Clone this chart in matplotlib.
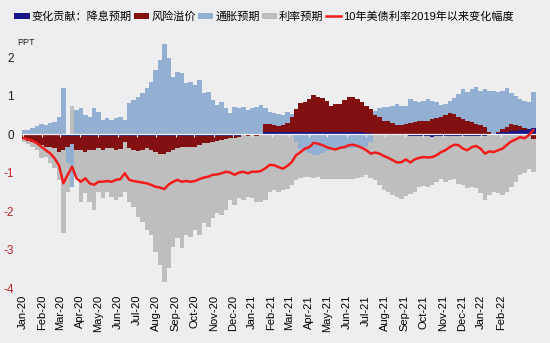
import datetime

import matplotlib

matplotlib.use("Agg")
import matplotlib.dates as mdates
import matplotlib.pyplot as plt
import numpy as np

plt.rcParams["font.family"] = ["Liberation Sans", "Noto Sans CJK SC"]

# weekly readings, first week ending 2020-01-03
FIRST_WEEK = datetime.date(2020, 1, 3)

# 变化贡献：降息预期
rate_cut = [
    -0.02, -0.02, -0.02, -0.02, -0.03, -0.03, -0.03, -0.03, -0.03, -0.05,
    -0.05, -0.05, -0.05, -0.04, -0.04, -0.04, -0.04, -0.04, -0.04, -0.04,
    -0.04, -0.04, -0.05, -0.04, -0.04, -0.04, -0.05, -0.04, -0.04, -0.04,
    -0.04, -0.05, -0.05, -0.04, -0.04, -0.04, -0.04, -0.04, -0.04, -0.04,
    -0.04, -0.04, -0.04, -0.04, -0.04, -0.04, -0.04, -0.04, -0.04, -0.04,
    -0.02, -0.02, -0.02, -0.02, -0.02, 0.04, 0.04, 0.04, 0.04, 0.04,
    0.04, 0.04, 0.04, 0.05, 0.05, 0.04, 0.04, 0.05, 0.05, 0.04,
    0.04, 0.04, 0.04, 0.05, 0.06, 0.05, 0.04, 0.04, 0.03, 0.03,
    0.01, 0.01, 0.01, 0.01, 0.01, 0.01, 0.01, 0.01, -0.04, -0.05,
    -0.05, -0.06, -0.05, -0.08, -0.05, -0.05, -0.04, -0.05, -0.06, -0.05,
    -0.05, -0.04, -0.05, -0.05, -0.06, -0.04, 0.00, 0.00, 0.02, 0.04,
    0.06, 0.08, 0.09, 0.10, 0.11, 0.13, 0.16,
]

# 风险溢价
risk_premium = [
    -0.11, -0.16, -0.18, -0.22, -0.26, -0.30, -0.30, -0.34, -0.43, -0.37,
    -0.30, -0.22, -0.37, -0.38, -0.42, -0.38, -0.38, -0.33, -0.38, -0.33,
    -0.33, -0.38, -0.33, -0.16, -0.33, -0.38, -0.38, -0.38, -0.33, -0.38,
    -0.42, -0.46, -0.46, -0.42, -0.38, -0.33, -0.29, -0.29, -0.29, -0.29,
    -0.25, -0.20, -0.20, -0.16, -0.14, -0.12, -0.09, -0.07, -0.06, -0.04,
    -0.01, -0.02, -0.01, -0.02, 0.00, 0.21, 0.23, 0.19, 0.17, 0.20,
    0.25, 0.40, 0.62, 0.75, 0.79, 0.88, 0.98, 0.92, 0.88, 0.81,
    0.70, 0.75, 0.75, 0.83, 0.90, 0.92, 0.86, 0.79, 0.70, 0.62,
    0.49, 0.43, 0.34, 0.32, 0.28, 0.23, 0.23, 0.26, 0.29, 0.31,
    0.33, 0.35, 0.35, 0.38, 0.42, 0.44, 0.50, 0.55, 0.53, 0.44,
    0.38, 0.35, 0.31, 0.27, 0.24, 0.18, 0.05, 0.01, 0.02, 0.08,
    0.12, 0.19, 0.15, 0.11, 0.05, 0.01, -0.12,
]

# 通胀预期
inflation = [
    0.10, 0.10, 0.15, 0.22, 0.25, 0.23, 0.28, 0.30, 0.45, 1.19,
    -0.40, -1.10, 0.62, 0.67, 0.49, 0.45, 0.68, 0.58, 0.36, 0.41,
    0.36, 0.42, 0.45, 0.36, 0.80, 0.88, 0.97, 1.06, 1.19, 1.36,
    1.66, 1.92, 2.35, 1.97, 1.49, 1.62, 1.58, 1.32, 1.36, 1.27,
    1.40, 1.06, 1.10, 0.88, 0.75, 0.84, 0.67, 0.54, 0.71, 0.67,
    0.71, 0.62, 0.67, 0.71, 0.75, 0.42, 0.31, 0.32, 0.32, 0.26,
    0.28, 0.09, -0.20, -0.40, -0.45, -0.50, -0.55, -0.55, -0.50, -0.45,
    -0.40, -0.40, -0.38, -0.38, -0.37, -0.37, -0.37, -0.35, -0.33, -0.20,
    0.11, 0.24, 0.35, 0.37, 0.45, 0.55, 0.49, 0.47, 0.61, 0.56,
    0.50, 0.50, 0.57, 0.47, 0.41, 0.32, 0.29, 0.30, 0.41, 0.61,
    0.78, 0.74, 0.87, 0.95, 0.89, 1.00, 1.08, 1.10, 1.05, 1.01,
    1.01, 0.80, 0.75, 0.71, 0.71, 0.69, 0.94,
]

# 利率预期
rate_exp = [
    -0.07, -0.09, -0.13, -0.18, -0.34, -0.26, -0.43, -0.52, -0.73, -2.16,
    -0.75, 0.72, -0.69, -1.34, -1.08, -1.34, -1.55, -1.13, -1.25, -1.13,
    -1.26, -1.29, -1.26, -1.30, -1.39, -1.47, -1.73, -1.86, -2.12, -2.20,
    -2.60, -2.90, -3.34, -3.03, -2.51, -2.34, -2.64, -2.29, -2.34, -2.16,
    -2.33, -2.08, -2.17, -1.99, -1.88, -1.94, -1.84, -1.60, -1.74, -1.59,
    -1.68, -1.59, -1.64, -1.72, -1.74, -1.71, -1.50, -1.46, -1.51, -1.46,
    -1.42, -1.33, -1.00, -0.75, -0.67, -0.62, -0.59, -0.57, -0.66, -0.71,
    -0.78, -0.76, -0.80, -0.80, -0.79, -0.81, -0.77, -0.77, -0.74, -0.94,
    -1.20, -1.33, -1.46, -1.51, -1.59, -1.64, -1.68, -1.61, -1.53, -1.46,
    -1.33, -1.28, -1.33, -1.24, -1.20, -1.11, -1.20, -1.15, -1.11, -1.24,
    -1.28, -1.37, -1.33, -1.35, -1.46, -1.67, -1.59, -1.51, -1.53, -1.58,
    -1.51, -1.38, -1.25, -1.07, -1.00, -0.90, -0.86,
]

# 10年美债利率2019年以来变化幅度
yield_change = [
    -0.11, -0.14, -0.18, -0.24, -0.33, -0.42, -0.50, -0.63, -0.81, -1.28,
    -1.06, -0.85, -1.15, -1.24, -1.15, -1.28, -1.32, -1.24, -1.24, -1.22,
    -1.24, -1.19, -1.17, -1.02, -1.19, -1.22, -1.24, -1.26, -1.28, -1.32,
    -1.37, -1.39, -1.43, -1.31, -1.24, -1.19, -1.24, -1.22, -1.24, -1.22,
    -1.17, -1.13, -1.11, -1.06, -1.05, -1.02, -0.98, -1.00, -1.06, -1.00,
    -0.98, -1.02, -0.98, -0.98, -0.96, -0.89, -0.80, -0.81, -0.86, -0.90,
    -0.83, -0.73, -0.55, -0.47, -0.38, -0.34, -0.23, -0.25, -0.29, -0.34,
    -0.38, -0.40, -0.36, -0.34, -0.29, -0.28, -0.31, -0.36, -0.42, -0.51,
    -0.48, -0.51, -0.57, -0.62, -0.68, -0.74, -0.73, -0.66, -0.74, -0.66,
    -0.62, -0.60, -0.61, -0.60, -0.55, -0.47, -0.42, -0.34, -0.28, -0.29,
    -0.38, -0.42, -0.34, -0.31, -0.38, -0.51, -0.45, -0.47, -0.42, -0.38,
    -0.28, -0.19, -0.14, -0.08, -0.11, -0.03, 0.10,
]

labels = ["变化贡献：降息预期", "风险溢价", "通胀预期", "利率预期"]
line_label = "10年美债利率2019年以来变化幅度"
y_ticks = [2, 1, 0, -1, -2, -3, -4]

BG = "#eeeef0"
colors = ["#17178a", "#821010", "#93afd2", "#bebebe"]

dates = [FIRST_WEEK + datetime.timedelta(weeks=i) for i in range(len(yield_change))]

fig = plt.figure(figsize=(5.5, 3.43), dpi=100, facecolor=BG)
ax = fig.add_axes([0.0364, 0.1603, 0.940, 0.7296], facecolor=BG)

pos_base = np.zeros(len(dates))
neg_base = np.zeros(len(dates))
for vals, color, label in zip([rate_cut, risk_premium, inflation, rate_exp], colors, labels):
    v = np.array(vals)
    bottom = np.where(v >= 0, pos_base, neg_base)
    ax.bar(dates, v, width=7.2, bottom=bottom, color=color, linewidth=0, label=label)
    pos_base += np.clip(v, 0, None)
    neg_base += np.clip(v, None, 0)

ax.axhline(0, color="#f4f4f4", lw=0.9, zorder=3)
month_ticks = [datetime.date(2020 + m // 12, m % 12 + 1, 1) for m in range(26)]
ax.vlines(month_ticks, -0.07, 0, color="#f4f4f4", lw=0.8, zorder=3)

ax.plot(dates, yield_change, color="#f21c1c", lw=1.8, zorder=4, label=line_label)

ax.set_xlim(datetime.date(2019, 12, 28), datetime.date(2022, 3, 31))
ax.set_ylim(-4, 2.5)
for s in ax.spines.values():
    s.set_visible(False)

ax.set_xticks(month_ticks)
ax.xaxis.set_major_formatter(mdates.DateFormatter("%b-%y"))
ax.tick_params(axis="x", length=0, pad=5, labelsize=8, rotation=90)

ax.set_yticks(y_ticks)
ax.set_yticklabels([str(t) for t in y_ticks])
ax.tick_params(axis="y", length=0, pad=4.5, labelsize=8.5)
for t, lab in zip(y_ticks, ax.get_yticklabels()):
    lab.set_color("#c0262a" if t < 0 else "#222222")

fig.text(0.031, 0.877, "PPT", fontsize=6.5, color="#222222", va="center")

handles, labs = ax.get_legend_handles_labels()
order = [1, 2, 3, 4, 0]
fig.legend([handles[i] for i in order], [labs[i] for i in order],
           loc="center", bbox_to_anchor=(0.48, 0.952), ncol=5, frameon=False,
           fontsize=8, handlelength=1.4, handleheight=0.55, handletextpad=0.15,
           columnspacing=0.2, borderaxespad=0)

fig.savefig("out.png", dpi=100, facecolor=BG)
